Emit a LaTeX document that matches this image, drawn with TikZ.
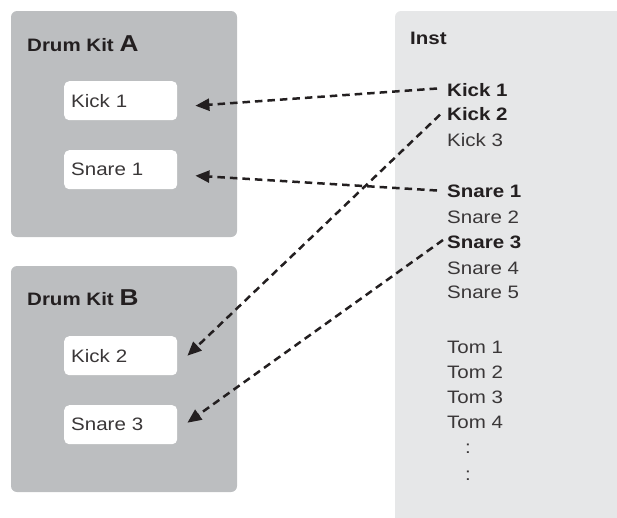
\documentclass[tikz,border=0pt]{standalone}
\usepackage{fontspec}
\setmainfont{Liberation Sans}[FakeStretch=1.14]
\usetikzlibrary{arrows.meta,calc}
\definecolor{kitgray}{HTML}{BCBEC0}
\definecolor{instgray}{HTML}{E6E7E8}
\definecolor{ink}{HTML}{231F20}
\definecolor{softink}{HTML}{3A3738}
\begin{document}
\begin{tikzpicture}[x=1pt,y=-1pt,
  kitbox/.style={fill=kitgray, rounded corners=6pt, draw=none},
  instbox/.style={fill=instgray, rounded corners=6pt, draw=none},
  padbox/.style={fill=white, rounded corners=5pt, minimum width=113pt, minimum height=39pt,
    anchor=north west, text width=99pt, align=left, inner xsep=7pt, inner ysep=0pt,
    font=\fontsize{18}{20}\selectfont, text=softink},
  kitlabel/.style={anchor=base west, inner sep=0pt, font=\fontsize{18}{20}\selectfont\bfseries, text=ink},
  item/.style={anchor=base west, inner sep=0pt, font=\fontsize{18}{20}\selectfont, text=softink},
  bolditem/.style={item, font=\fontsize{18}{20}\selectfont\bfseries, text=ink},
  link/.style={draw=ink, line width=2.5pt, dash pattern=on 7.5pt off 5pt,
    -{Triangle[length=14pt,width=12pt]}}]
\clip (0,0) rectangle (617,517);
% boxes
\path[kitbox] (11,11) rectangle (237,237);
\path[kitbox] (11,266) rectangle (237,492);
\path[instbox] (395,11) rectangle (650,560);
% kit labels
\node[kitlabel] (kitA) at (27,51) {Drum Kit {\fontsize{23}{25}\selectfont A}};
\node[kitlabel] (kitB) at (27,305) {Drum Kit {\fontsize{23}{25}\selectfont B}};
% pads
\node[padbox] (a1) at (64,81) {Kick 1};
\node[padbox] (a2) at (64,150) {Snare 1};
\node[padbox] (b1) at (64,336) {Kick 2};
\node[padbox] (b2) at (64,405) {Snare 3};
% inst list
\node[bolditem] (inst) at (410,44) {Inst};
\node[bolditem] (k1) at (447,96.5) {Kick 1};
\node[bolditem] (k2) at (447,120.7) {Kick 2};
\node[item] (k3) at (447,146.7) {Kick 3};
\node[bolditem] (s1) at (447,197) {Snare 1};
\node[item] (s2) at (447,223) {Snare 2};
\node[bolditem] (s3) at (447,248) {Snare 3};
\node[item] (s4) at (447,274) {Snare 4};
\node[item] (s5) at (447,298.5) {Snare 5};
\node[item] (t1) at (447,353) {Tom 1};
\node[item] (t2) at (447,378) {Tom 2};
\node[item] (t3) at (447,403) {Tom 3};
\node[item] (t4) at (447,428) {Tom 4};
\node[item] (d1) at (465,453) {:};
\node[item] (d2) at (465,480) {:};
% connectors
\draw[link] ($(k1.base west)+(-10,-8)$) -- ($(a1.east)+(18,5)$);
\draw[link] ($(k2.base west)+(-7,-6)$) -- ($(b1.east)+(10,0)$);
\draw[link] ($(s1.base west)+(-10,-6.5)$) -- ($(a2.east)+(18,6)$);
\draw[link] ($(s3.base west)+(-4,-8)$) -- ($(b2.east)+(10,-2)$);
\end{tikzpicture}
\end{document}
